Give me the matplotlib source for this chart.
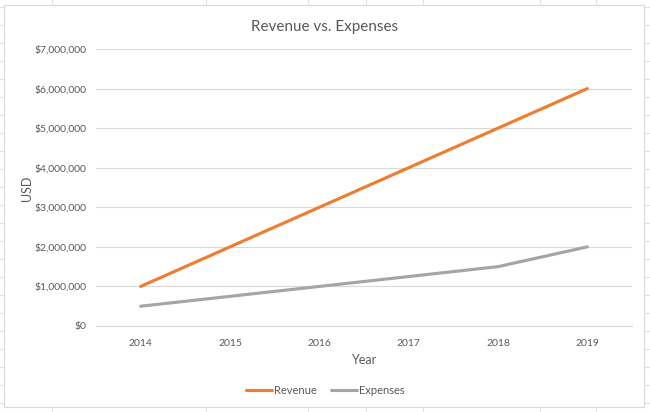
import matplotlib.pyplot as plt
from matplotlib.lines import Line2D
from matplotlib.patches import Rectangle

years = ["2014", "2015", "2016", "2017", "2018", "2019"]
revenue = [1000000, 2000000, 3000000, 4000000, 5000000, 6000000]
expenses = [500000, 750000, 1000000, 1250000, 1500000, 2000000]

plt.rcParams['font.family'] = ['Lato', 'DejaVu Sans']

W, H = 650, 412
fig = plt.figure(figsize=(W / 100, H / 100), dpi=100)
fig.patch.set_facecolor('white')

# faint spreadsheet cells behind the chart
sheet = '#E3E3E3'
for x in [52, 206, 308, 366, 423, 540, 596]:
    fig.add_artist(Line2D([x / W, x / W], [0, 1], color=sheet, lw=0.8, zorder=0))
for i in range(24):
    y = 7 + 18 * i
    fig.add_artist(Line2D([0, 1], [1 - y / H, 1 - y / H], color=sheet, lw=0.8, zorder=0))
fig.add_artist(Rectangle((4 / W, 1 - 407 / H), 640 / W, 402 / H, facecolor='white',
                         edgecolor='#D9D9D9', lw=0.8, zorder=1))

ax = fig.add_axes([96 / W, 1 - 326 / H, 536 / W, 277 / H], zorder=2)
ax.patch.set_alpha(0)

idx = list(range(len(years)))
ax.plot(idx, revenue, color='#ED7D31', lw=2.25, label='Revenue', solid_capstyle='round')
ax.plot(idx, expenses, color='#A5A5A5', lw=2.25, label='Expenses', solid_capstyle='round')

ax.set_xlim(-0.5, len(years) - 0.5)
ax.set_ylim(0, 7000000)
ax.set_xticks(idx)
ax.set_xticklabels(years)
ax.set_yticks(range(0, 7000001, 1000000))
ax.set_yticklabels(['${:,}'.format(v) for v in range(0, 7000001, 1000000)])
ax.grid(axis='y', color='#D9D9D9', lw=0.8)
ax.set_axisbelow(True)
for s in ['top', 'right', 'left']:
    ax.spines[s].set_visible(False)
ax.spines['bottom'].set_color('#D9D9D9')
ax.spines['bottom'].set_linewidth(0.8)
ax.tick_params(length=0, colors='#595959', labelsize=7.5)
ax.tick_params(axis='x', pad=9)
ax.tick_params(axis='y', pad=7)

ax.set_xlabel('Year', color='#595959', fontsize=9, labelpad=5)
fig.text(27 / W, 1 - 188 / H, 'USD', rotation=90, ha='center', va='center',
         color='#595959', fontsize=9, zorder=3)
fig.text(0.5, 1 - 27 / H, 'Revenue vs. Expenses', ha='center', va='center',
         color='#595959', fontsize=11, zorder=3)

fig.legend(loc='center', bbox_to_anchor=(0.5, 1 - 390 / H), ncol=2, frameon=False,
           fontsize=8, labelcolor='#595959', handlelength=2.4, handletextpad=0.1,
           columnspacing=1.3)

plt.savefig('out.png', dpi=100)
